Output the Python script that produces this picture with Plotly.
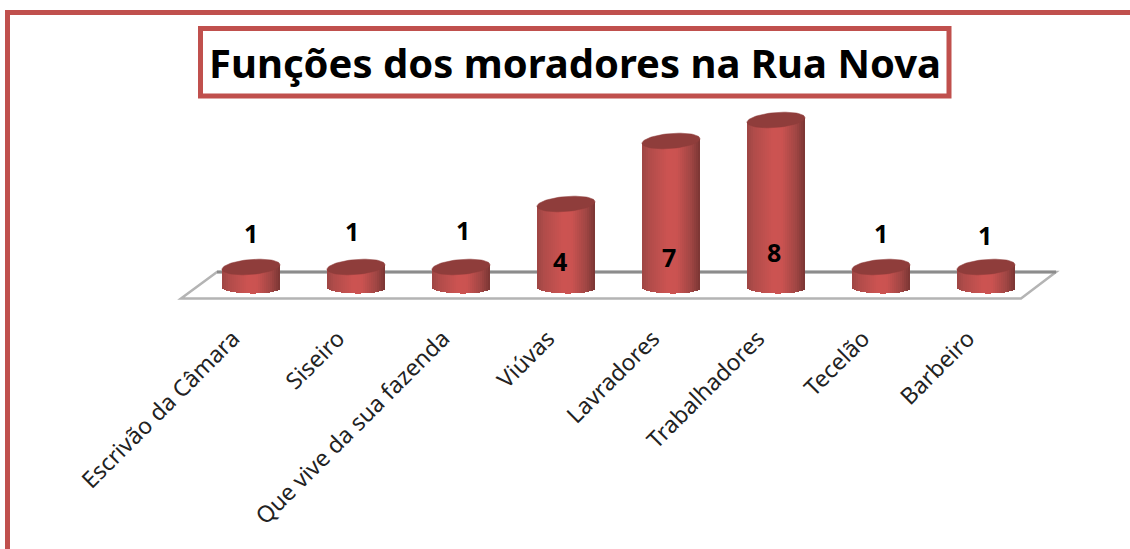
import numpy as np
import plotly.graph_objects as go

categories = ["Escrivão da Câmara", "Siseiro", "Que vive da sua fazenda", "Viúvas",
              "Lavradores", "Trabalhadores", "Tecelão", "Barbeiro"]
values = [1, 1, 1, 4, 7, 8, 1, 1]
title_text = "Funções dos moradores na Rua Nova"

W, H = 1130, 549
L, R, T, B = 170, 1060, 100, 300
RED = "#c0504d"
FONT = "Noto Sans"

# pixel offsets of the value labels from the bar tops, as placed in the source
label_dx = [0, -4, 2, -6, -2, -2, 0, -1]
label_dy = [34, 36, 37, -57, -116, -132, 34, 32]

UX = 105.0
UY = 21.0
xr = [(L - 251) / UX, (R - 251) / UX]
yr = [(288 - B) / UY, (288 - T) / UY]
pos = list(range(len(categories)))


def px(x):
    return (x - L) / (R - L)


def py(y):
    return (B - y) / (B - T)


BAR_W = 58 / UX
N = 29
TOP_H = 7.5 / UY
BOT_H = 5.5 / UY
TILT = 2.3 / UY
stops_t = [0.0, 0.12, 0.45, 0.6, 0.85, 1.0]
stops_c = np.array([[158, 70, 68], [176, 76, 74], [205, 84, 82], [203, 83, 81],
                     [160, 70, 68], [122, 54, 52]], dtype=float)

fig = go.Figure()
for k in range(N):
    f = (k + 0.5) / N
    t = 2 * f - 1
    rgb = [int(np.interp(f, stops_t, stops_c[:, c])) for c in range(3)]
    sag = BOT_H * np.sqrt(max(0, 1 - t * t))
    base = -sag - 0.02 * t
    tops = [v + TILT * t for v in values]
    fig.add_trace(go.Bar(
        x=pos,
        y=[tp - base for tp in tops],
        base=base,
        width=BAR_W / N + 0.004,
        offset=-BAR_W / 2 + k * BAR_W / N,
        marker=dict(color=f"rgb({rgb[0]},{rgb[1]},{rgb[2]})", line=dict(width=0)),
        hoverinfo="skip",
        showlegend=False,
    ))

theta = np.linspace(0, 2 * np.pi, 73)
for p, v in zip(pos, values):
    ex = np.cos(theta)
    fig.add_trace(go.Scatter(
        x=p + BAR_W / 2 * ex,
        y=v + TILT * ex + TOP_H * np.sin(theta),
        mode="lines",
        fill="toself",
        fillcolor="#8f3d3b",
        line=dict(color="#8f3d3b", width=0.5),
        hoverinfo="skip",
        showlegend=False,
    ))

shapes = [
    # outer chart frame
    dict(type="line", xref="paper", yref="paper", x0=px(7.5), x1=px(7.5), y0=py(10), y1=py(H + 5),
         line=dict(color=RED, width=5), layer="below"),
    dict(type="line", xref="paper", yref="paper", x0=px(5), x1=px(W + 5), y0=py(12.5), y1=py(12.5),
         line=dict(color=RED, width=5), layer="below"),
    # title box
    dict(type="rect", xref="paper", yref="paper", x0=px(200.5), x1=px(949), y0=py(28.5), y1=py(96),
         line=dict(color=RED, width=5), fillcolor="white", layer="below"),
    # floor of the 3-D plot
    dict(type="path", xref="x", yref="y", layer="below",
         path=f"M {(181-251)/UX} {(288-298.5)/UY} L {(1021-251)/UX} {(288-298.5)/UY} "
              f"L {(1056-251)/UX} {(288-272)/UY} L {(217-251)/UX} {(288-272)/UY} Z",
         fillcolor="white", line=dict(color="#b4b4b4", width=2.5)),
    dict(type="line", xref="x", yref="y", layer="below",
         x0=(217 - 251) / UX, x1=(1056 - 251) / UX, y0=(288 - 272) / UY, y1=(288 - 272) / UY,
         line=dict(color="#8c8c8c", width=3)),
]

annotations = [dict(
    xref="paper", yref="paper", x=px(575), y=py(62), text=f"<b>{title_text}</b>", showarrow=False,
    font=dict(family=FONT, size=40, color="black"), xanchor="center", yanchor="middle",
)]
for p, v, dx, dy in zip(pos, values, label_dx, label_dy):
    annotations.append(dict(
        x=p, y=v, xref="x", yref="y", text=f"<b>{v}</b>", showarrow=False,
        xshift=dx, yshift=dy, font=dict(family=FONT, size=25, color="black"),
        xanchor="center", yanchor="middle",
    ))

fig.update_layout(
    width=W, height=H,
    margin=dict(l=L, r=W - R, t=T, b=H - B, autoexpand=False),
    barmode="overlay",
    bargap=0,
    paper_bgcolor="white",
    plot_bgcolor="rgba(0,0,0,0)",
    showlegend=False,
    shapes=shapes,
    annotations=annotations,
    xaxis=dict(range=xr, tickmode="array", tickvals=pos, ticktext=categories, tickangle=-45,
               showgrid=False, zeroline=False, showline=False, ticks="outside", ticklen=15,
               tickcolor="rgba(0,0,0,0)", automargin=False, ticklabelshift=-18,
               tickfont=dict(family=FONT, size=23, color="#222222")),
    yaxis=dict(range=yr, visible=False, showgrid=False, zeroline=False),
)

fig.write_html("out.html", config={"displayModeBar": False},
               post_script="document.body.style.margin='0';document.body.style.overflow='hidden';")
